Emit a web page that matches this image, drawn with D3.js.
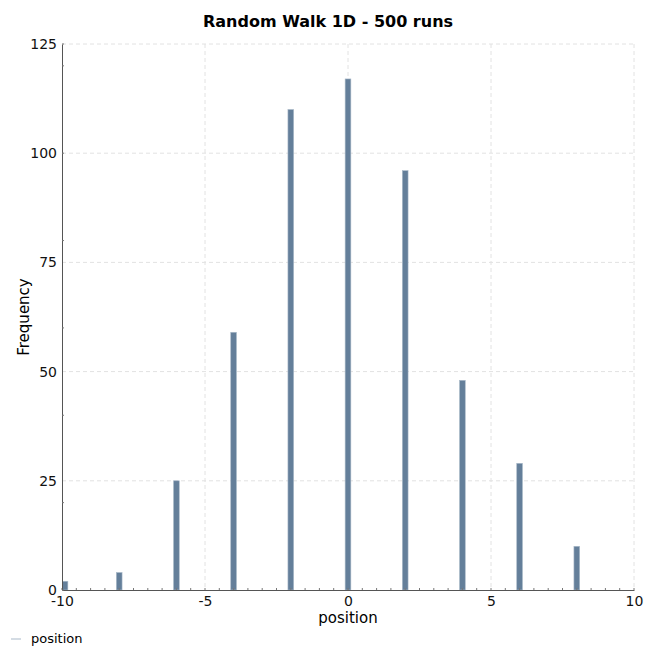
<!DOCTYPE html>
<html>
<head>
<meta charset="utf-8">
<script src="https://cdn.jsdelivr.net/npm/d3@7"></script>
<style>
  body { margin: 0; background: #fff; }
  text { font-family: "DejaVu Sans", sans-serif; }
</style>
</head>
<body>
<div id="chart"></div>
<script>
// histogram of final positions
var positions = [-10, -8, -6, -4, -2, 0, 2, 4, 6, 8];
var counts = [2, 4, 25, 59, 110, 117, 96, 48, 29, 10];
var xTicks = [-10, -5, 0, 5, 10];
var yTicks = [0, 25, 50, 75, 100, 125];

var W = 646, H = 649;
var margin = { top: 44, right: 12, bottom: 59, left: 62 },
    width = W - margin.left - margin.right,
    height = H - margin.top - margin.bottom;

var x = d3.scaleLinear().domain([-10, 10]).range([0, width]);
var y = d3.scaleLinear().domain([0, 125]).range([height, 0]);

var svg = d3.select("#chart").append("svg")
    .attr("width", W)
    .attr("height", H);

svg.append("text")
    .attr("x", W / 2 + 5)
    .attr("y", 27)
    .attr("text-anchor", "middle")
    .style("font-size", "16px")
    .style("font-weight", "bold")
    .text("Random Walk 1D - 500 runs");

var g = svg.append("g")
    .attr("transform", "translate(" + margin.left + "," + margin.top + ")");

// grid
g.selectAll("line.gx")
    .data(xTicks.slice(1))
    .enter().append("line")
    .attr("class", "gx")
    .attr("x1", function (d) { return x(d); })
    .attr("x2", function (d) { return x(d); })
    .attr("y1", 0).attr("y2", height)
    .style("stroke", "#e2e2e2")
    .style("stroke-dasharray", "4,3");

g.selectAll("line.gy")
    .data(yTicks.slice(1))
    .enter().append("line")
    .attr("class", "gy")
    .attr("x1", 0).attr("x2", width)
    .attr("y1", function (d) { return y(d); })
    .attr("y2", function (d) { return y(d); })
    .style("stroke", "#e2e2e2")
    .style("stroke-dasharray", "4,3");

g.append("clipPath").attr("id", "clip")
    .append("rect").attr("width", width).attr("height", height);

// bars
var barW = 0.2;
g.append("g").attr("clip-path", "url(#clip)")
    .selectAll("rect")
    .data(positions)
    .enter().append("rect")
    .attr("x", function (d) { return x(d - barW / 2) + (d === -10 ? 3 : 0); })
    .attr("width", function (d) { return x(barW) - x(0); })
    .attr("y", function (d, i) { return y(counts[i]); })
    .attr("height", function (d, i) { return height - y(counts[i]); })
    .style("fill", "#647f9a")
    .style("stroke", "#a9b9c9")
    .style("stroke-width", 0.6);

// axes
var xAxis = g.append("g")
    .attr("transform", "translate(0," + height + ")")
    .call(d3.axisBottom(x).tickValues(xTicks).tickSize(0).tickPadding(6)
        .tickFormat(function (d) { return String(d); }));
xAxis.select(".domain").style("stroke", "#555");
xAxis.selectAll("text").style("font-size", "14px").style("fill", "#111");

var xMinor = d3.range(-10, 10.01, 0.5);
g.selectAll("line.mx")
    .data(xMinor)
    .enter().append("line")
    .attr("x1", function (d) { return x(d); })
    .attr("x2", function (d) { return x(d); })
    .attr("y1", height).attr("y2", height - 2)
    .style("stroke", "#777");

var yAxis = g.append("g")
    .call(d3.axisLeft(y).tickValues(yTicks).tickSize(0).tickPadding(5));
yAxis.select(".domain").style("stroke", "#555");
yAxis.selectAll("text").style("font-size", "14px").style("fill", "#111");

var yMinor = [0, 20, 40, 60, 80, 100, 120, 125];
g.selectAll("line.my")
    .data(yMinor)
    .enter().append("line")
    .attr("x1", 0).attr("x2", 2)
    .attr("y1", function (d) { return y(d); })
    .attr("y2", function (d) { return y(d); })
    .style("stroke", "#777");

svg.append("text")
    .attr("x", margin.left + width / 2)
    .attr("y", 623)
    .attr("text-anchor", "middle")
    .style("font-size", "15px")
    .text("position");

svg.append("text")
    .attr("transform", "translate(29," + (margin.top + height / 2) + ") rotate(-90)")
    .attr("text-anchor", "middle")
    .style("font-size", "15px")
    .text("Frequency");

// legend
svg.append("line")
    .attr("x1", 11).attr("x2", 21)
    .attr("y1", 639).attr("y2", 639)
    .style("stroke", "#a9b9c9");
svg.append("text")
    .attr("x", 31).attr("y", 643)
    .style("font-size", "13px")
    .text("position");
</script>
</body>
</html>
